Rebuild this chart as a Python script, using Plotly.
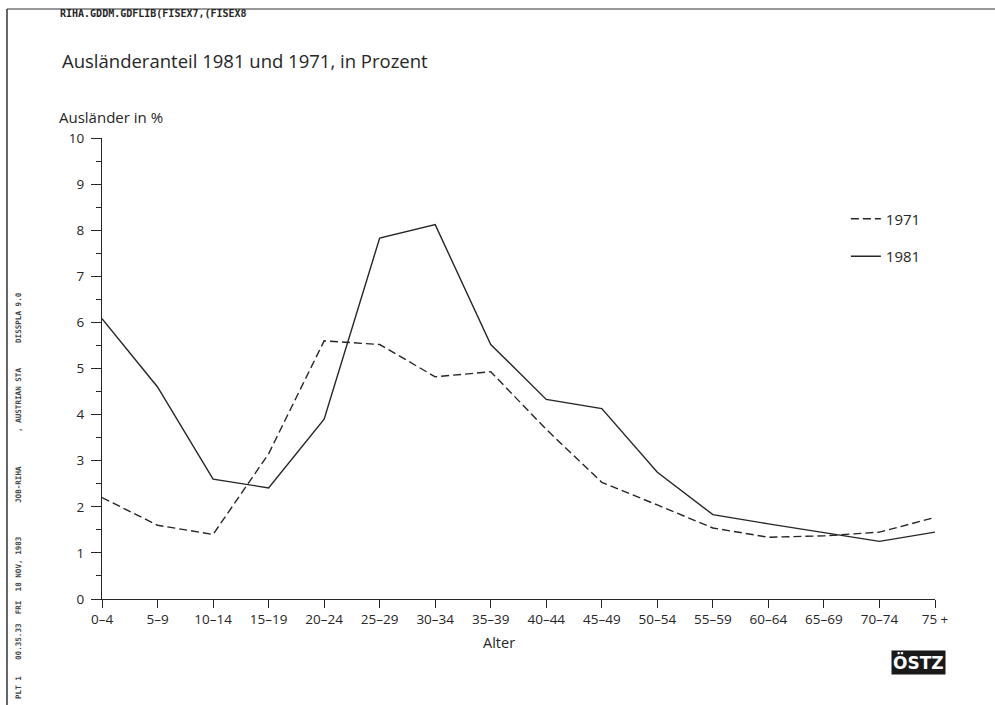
import plotly.graph_objects as go

age_groups = ["0-4", "5-9", "10-14", "15-19", "20-24", "25-29", "30-34", "35-39",
              "40-44", "45-49", "50-54", "55-59", "60-64", "65-69", "70-74", "75 +"]
tick_labels = ["0\u20134", "5\u20139", "10\u201314", "15\u201319", "20\u201324", "25\u201329",
               "30\u201334", "35\u201339", "40\u201344", "45\u201349", "50\u201354", "55\u201359",
               "60\u201364", "65\u201369", "70\u201374", "75 +"]
share_1971 = [2.2, 1.6, 1.4, 3.15, 5.6, 5.52, 4.82, 4.93, 3.68, 2.53, 2.04, 1.54, 1.34, 1.37, 1.45, 1.77]
share_1981 = [6.08, 4.6, 2.6, 2.41, 3.9, 7.83, 8.12, 5.52, 4.33, 4.13, 2.75, 1.83, 1.63, 1.44, 1.25, 1.45]

x_pos = list(range(len(age_groups)))
ink = "#262626"
font_main = "Open Sans"

fig = go.Figure()
fig.add_trace(go.Scatter(x=x_pos, y=share_1971, mode="lines", name="1971",
                         legendgroup="a",
                         line=dict(color=ink, width=1.4, dash="8px,4px")))
fig.add_trace(go.Scatter(x=x_pos, y=share_1981, mode="lines", name="1981",
                         legendgroup="b",
                         line=dict(color=ink, width=1.4)))

fig.update_layout(
    width=995, height=705,
    margin=dict(l=102, r=60, t=138, b=106),
    paper_bgcolor="white", plot_bgcolor="white",
    font=dict(family=font_main, color=ink),
    title=dict(text="Ausländeranteil 1981 und 1971, in Prozent",
               x=62 / 995, xanchor="left", xref="container",
               y=1 - 62 / 705, yanchor="middle", yref="container",
               font=dict(size=18.5, color=ink, family=font_main)),
    showlegend=True,
    legend=dict(x=0.893, xanchor="left", y=0.86, yanchor="top",
                bgcolor="rgba(0,0,0,0)", font=dict(size=15, color=ink),
                tracegroupgap=15, itemwidth=30),
    xaxis=dict(range=[0, 15], tickvals=x_pos, ticktext=tick_labels,
               showgrid=False, zeroline=False, showline=True, linecolor=ink, linewidth=1.3,
               ticks="outside", ticklen=8, tickcolor=ink, tickwidth=1.2,
               tickfont=dict(size=13.5, color=ink)),
    yaxis=dict(range=[0, 10], dtick=1, tick0=0,
               showgrid=False, zeroline=False, showline=True, linecolor=ink, linewidth=1.3,
               ticks="outside", ticklen=10, tickcolor=ink, tickwidth=1.2,
               ticklabelstandoff=4,
               tickfont=dict(size=13.5, color=ink),
               minor=dict(dtick=0.5, ticks="outside", ticklen=5, tickcolor=ink, tickwidth=1.1)),
)

# x axis title
fig.add_annotation(text="Alter", xref="paper", yref="paper",
                   x=(499 - 102) / 833, y=(599 - 642) / 461, xanchor="center", yanchor="middle",
                   showarrow=False, font=dict(size=14.5, color=ink, family=font_main))

# y axis title
fig.add_annotation(text="Ausländer in %", xref="paper", yref="paper",
                   x=(58 - 102) / 833, y=(599 - 117) / 461, xanchor="left", yanchor="middle",
                   showarrow=False, borderpad=0,
                   font=dict(size=15, color=ink, family=font_main))

# header line
fig.add_annotation(text="<b>RIHA.GDDM.GDFLIB(FISEX7,(FISEX8</b>", xref="paper", yref="paper",
                   x=(58 - 102) / 833, y=(599 - 14) / 461, xanchor="left", yanchor="middle",
                   showarrow=False, font=dict(size=10, color=ink, family="DejaVu Sans Mono"))

# vertical side notes
side_notes = [("PLT 1", 688), ("00.35.33  FRI  18 NOV, 1983", 598), ("JOB-RIHA", 485),
              (", AUSTRIAN STA", 400), ("DISSPLA 9.0", 318)]
for txt, yy in side_notes:
    fig.add_annotation(text="<b>" + txt + "</b>", xref="paper", yref="paper",
                       x=(18 - 102) / 833, y=(599 - yy) / 461, xanchor="center", yanchor="middle",
                       textangle=-90, showarrow=False,
                       font=dict(size=7.6, color="#444", family="DejaVu Sans Mono"))

# logo
fig.add_annotation(text="<b>ÖSTZ</b>", xref="paper", yref="paper",
                   x=(918 - 102) / 833, y=(599 - 662) / 461, xanchor="center", yanchor="middle",
                   showarrow=False, bgcolor="#1a1a1a", borderpad=1,
                   font=dict(size=17, color="white", family="DejaVu Sans"))

# page frame (scan edge)
fig.add_shape(type="line", xref="paper", yref="paper",
              x0=(7 - 102) / 833, x1=(7 - 102) / 833, y0=(599 - 705) / 461, y1=(599 - 9) / 461,
              line=dict(color="#333", width=1.5))
fig.add_shape(type="line", xref="paper", yref="paper",
              x0=(7 - 102) / 833, x1=(995 - 102) / 833, y0=(599 - 9) / 461, y1=(599 - 9) / 461,
              line=dict(color="#333", width=1.2))

fig.write_html("out.html")
